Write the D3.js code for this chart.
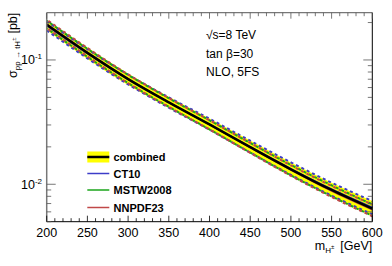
<!DOCTYPE html>
<html><head><meta charset="utf-8">
<script src="https://cdn.jsdelivr.net/npm/d3@7"></script>
<style>body{margin:0;background:#fff}svg{display:block}text{font-family:"Liberation Sans",Arial,sans-serif}</style>
</head><body>
<script>
const masses = [200,250,300,350,400,450,500,550,600];
const combined     = [0.192, 0.114, 0.0702, 0.0456, 0.0303, 0.0199, 0.0132, 0.0090, 0.00637];
const combinedUp   = [0.211, 0.126, 0.0780, 0.0505, 0.0338, 0.0225, 0.0150, 0.0103, 0.00733];
const combinedDown = [0.173, 0.102, 0.0628, 0.0410, 0.0272, 0.0178, 0.0116, 0.0079, 0.00553];
const ct10     = [0.188, 0.112, 0.0695, 0.0454, 0.0304, 0.0201, 0.0134, 0.0092, 0.00655];
const ct10Up   = [0.205, 0.122, 0.0762, 0.0500, 0.0337, 0.0224, 0.0150, 0.0103, 0.00733];
const ct10Down = [0.173, 0.103, 0.0636, 0.0413, 0.0275, 0.0180, 0.0119, 0.0081, 0.00575];
const mstw     = [0.194, 0.115, 0.0706, 0.0457, 0.0302, 0.0198, 0.0131, 0.0089, 0.00627];
const mstwUp   = [0.207, 0.123, 0.0758, 0.0492, 0.0327, 0.0215, 0.0143, 0.0098, 0.00690];
const mstwDown = [0.180, 0.106, 0.0652, 0.0420, 0.0276, 0.0180, 0.0118, 0.0080, 0.00558];
const nnpdf     = [0.196, 0.116, 0.0708, 0.0456, 0.0301, 0.0197, 0.0130, 0.0088, 0.00622];
const nnpdfUp   = [0.211, 0.125, 0.0765, 0.0494, 0.0327, 0.0215, 0.0142, 0.0097, 0.00688];
const nnpdfDown = [0.181, 0.107, 0.0652, 0.0419, 0.0276, 0.0179, 0.0117, 0.0079, 0.00553];
const xTicks = [200,250,300,350,400,450,500,550,600];
const legendLabels = ["combined","CT10","MSTW2008","NNPDF23"];

const W=392,H=266, L=46.7,R=372.3,T=12.7,B=221.7;
const svg=d3.select("body").append("svg").attr("width",W).attr("height",H);
const x=d3.scaleLinear().domain([200,600]).range([L,R]);
const y=d3.scaleLog().domain([0.005,0.24]).range([B,T]);

const gPlot=svg.append("g");
const line=(arr)=>d3.line().x((d,i)=>x(masses[i])).y(d=>y(d)).curve(d3.curveMonotoneX)(arr);
const area=d3.area().x((d,i)=>x(masses[i])).y0((d,i)=>y(combinedDown[i])).y1((d,i)=>y(combinedUp[i])).curve(d3.curveMonotoneX);
gPlot.append("path").attr("d",area(masses)).attr("fill","#ffff00");

const pdfs=[
 {c:ct10,u:ct10Up,d:ct10Down,col:"#3c3cc8"},
 {c:mstw,u:mstwUp,d:mstwDown,col:"#1aa51a"},
 {c:nnpdf,u:nnpdfUp,d:nnpdfDown,col:"#c04848"}
];
pdfs.forEach((p,k)=>{
  gPlot.append("path").attr("d",line(p.c)).attr("fill","none").attr("stroke",p.col).attr("stroke-width",1.2);
});
pdfs.forEach((p,k)=>{
  [p.u,p.d].forEach(a=>{
    gPlot.append("path").attr("d",line(a)).attr("fill","none").attr("stroke",p.col)
      .attr("stroke-width",2).attr("stroke-dasharray","3,3").attr("stroke-dashoffset",k*2);
  });
});
gPlot.append("path").attr("d",line(combined)).attr("fill","none").attr("stroke","#000").attr("stroke-width",2.5);

// frame
const fr=svg.append("g");
fr.append("line").attr("x1",L).attr("x2",L).attr("y1",T).attr("y2",B).attr("stroke","#777").attr("stroke-width",1.5);
fr.append("line").attr("x1",L).attr("x2",R).attr("y1",T).attr("y2",T).attr("stroke","#777").attr("stroke-width",1.2);
fr.append("line").attr("x1",R).attr("x2",R).attr("y1",T).attr("y2",B).attr("stroke","#000").attr("stroke-width",1);
fr.append("line").attr("x1",L).attr("x2",R).attr("y1",B).attr("y2",B).attr("stroke","#000").attr("stroke-width",1);

// x ticks
const xMinor=d3.range(200,601,10);
xMinor.forEach(v=>{
  const major=v%50===0, len=major?6:3.5;
  fr.append("line").attr("x1",x(v)).attr("x2",x(v)).attr("y1",B).attr("y2",B-len).attr("stroke","#000").attr("stroke-width",0.8);
  fr.append("line").attr("x1",x(v)).attr("x2",x(v)).attr("y1",T).attr("y2",T+len).attr("stroke","#555").attr("stroke-width",0.8);
});
xTicks.forEach(v=>{
  svg.append("text").attr("x",x(v)).attr("y",237).attr("text-anchor","middle").attr("font-size",12.5).text(v);
});
// y ticks
const yMinor=[];
[0.001,0.01,0.1].forEach(dec=>{for(let k=1;k<10;k++){const v=dec*k; if(v>=0.005&&v<=0.24) yMinor.push({v,major:k===1});}});
yMinor.forEach(t=>{
  const len=t.major?9:4.5;
  fr.append("line").attr("x1",L).attr("x2",L+len).attr("y1",y(t.v)).attr("y2",y(t.v)).attr("stroke","#555").attr("stroke-width",0.8);
  fr.append("line").attr("x1",R).attr("x2",R-len).attr("y1",y(t.v)).attr("y2",y(t.v)).attr("stroke","#555").attr("stroke-width",0.8);
});
[[0.1,"-1"],[0.01,"-2"]].forEach(([v,e])=>{
  const t=svg.append("text").attr("x",42).attr("y",y(v)+4.5).attr("text-anchor","end").attr("font-size",12.5);
  t.append("tspan").text("10");
  t.append("tspan").attr("font-size",8).attr("dy",-5).text(e);
});

// axis titles
const xt=svg.append("text").attr("x",R).attr("y",250).attr("text-anchor","end").attr("font-size",12.5);
xt.append("tspan").text("m");
xt.append("tspan").attr("font-size",8).attr("dy",3).text("H");
xt.append("tspan").attr("font-size",6).attr("dy",-4).text("±");
xt.append("tspan").attr("dy",1).attr("dx",6).text("[GeV]");

const yt=svg.append("text").attr("transform",`translate(17,${T}) rotate(-90)`).attr("text-anchor","end").attr("font-size",12.5);
yt.append("tspan").text("σ");
yt.append("tspan").attr("font-size",8).attr("dy",3).text("pp → tH");
yt.append("tspan").attr("font-size",6).attr("dy",-4).text("±");
yt.append("tspan").attr("dy",1).attr("dx",4).text("[pb]");

// annotations
svg.append("text").attr("x",206).attr("y",39).attr("font-size",12).text("√s=8 TeV");
svg.append("text").attr("x",206).attr("y",58).attr("font-size",12).text("tan β=30");
svg.append("text").attr("x",206).attr("y",76).attr("font-size",12).text("NLO, 5FS");

// legend
const lg=svg.append("g");
const legCols=[null,"#3c3cc8","#1aa51a","#c04848"];
const legY=[157,173.5,190,207.5];
legendLabels.forEach((lab,i)=>{
  const yy=legY[i];
  if(i===0){
    lg.append("rect").attr("x",87.3).attr("y",yy-5.5).attr("width",22).attr("height",11).attr("fill","#ffff00");
    lg.append("line").attr("x1",87.3).attr("x2",109.3).attr("y1",yy).attr("y2",yy).attr("stroke","#000").attr("stroke-width",2.5);
  } else {
    lg.append("line").attr("x1",87.3).attr("x2",109.3).attr("y1",yy).attr("y2",yy).attr("stroke",legCols[i]).attr("stroke-width",1.5);
  }
  lg.append("text").attr("x",113.5).attr("y",yy+4).attr("font-size",11).attr("font-weight","bold").text(lab);
});
</script>
</body></html>
